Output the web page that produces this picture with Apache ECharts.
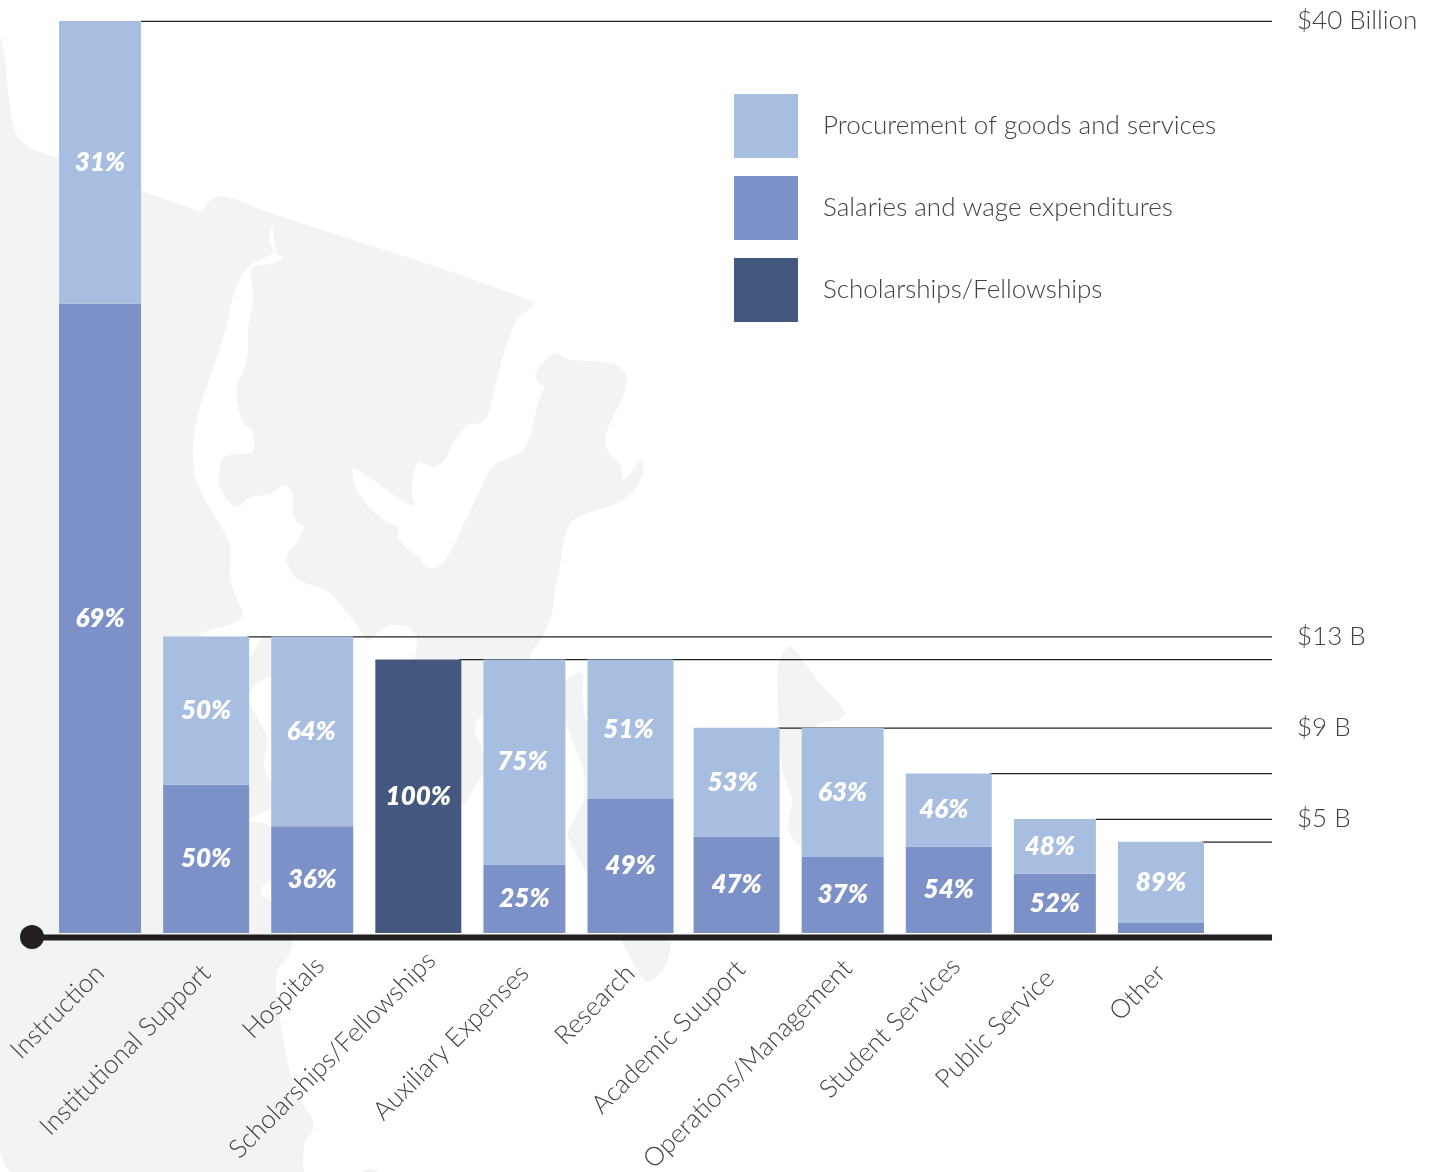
<!DOCTYPE html>
<html>
<head>
<meta charset="utf-8">
<title>University expenditures by function</title>
<style>html,body{margin:0;padding:0;background:#fff}#chart{width:1434px;height:1172px}</style>
<script src="https://cdn.jsdelivr.net/npm/echarts@6/dist/echarts.min.js"></script>
</head>
<body>
<div id="chart"></div>
<script>
// Expenditure categories, in display order
const categories = ['Instruction','Institutional Support','Hospitals','Scholarships/Fellowships','Auxiliary Expenses','Research','Academic Suuport','Operations/Management','Student Services','Public Service','Other'];

// Spending in billions of dollars
const procurement  = [12.4,6.5,8.32,null,9,6.12,4.77,5.67,3.22,2.4,3.56];
const salaries     = [27.6,6.5,4.68,null,3,5.88,4.23,3.33,3.78,2.6,0.44];
const scholarships = [null,null,null,12,null,null,null,null,null,null,null];

// Share of each category's total printed on the segments
const procurementPct  = ['31%','50%','64%',null,'75%','51%','53%','63%','46%','48%','89%'];
const salariesPct     = ['69%','50%','36%',null,'25%','49%','47%','37%','54%','52%',null];
const scholarshipsPct = [null,null,null,'100%',null,null,null,null,null,null,null];

// Reference rules: category index where the rule starts, and its level
const ruleStarts = [0,1,3,6,8,9,10];
const ruleLevels = [40,13,12,9,7,5,4];

// Scale labels on the right
const scaleValues = [40,13,9,5];
const scaleLabels = ['$40 Billion','$13 B','$9 B','$5 B'];

// Bars alternate between two widths
const narrowBars = [0,2,4,7,9];
const wideBars   = [1,3,5,6,8,10];

// Hand-placed tweaks: slide along the slanted category labels, sideways shift of segment labels
const categoryLabelSlide = [0,0,11,18,0,0,6,7,10,-7,0];
const procurementLabelShift = [0,0,-1,0,-2,-2,-4,0,-5,-5,0];

// Backdrop map of western Washington, in page pixels
const mapMainland = [[0,37],[5,60],[8,90],[12,120],[18,137],[30,148],[59,158],[141,190],[201,211],[208,202],[222,196],[240,201],[262,210],[533,302],[517,320],[505,350],[495,387],[487,417],[480,423],[468,425],[453,443],[445,460],[433,467],[419,462],[413,477],[412,493],[414,506],[397,497],[353,468],[357,490],[370,508],[388,523],[398,527],[398,538],[407,548],[420,558],[426,567],[435,568],[447,558],[490,470],[498,462],[508,458],[523,450],[532,430],[537,407],[542,393],[545,388],[538,382],[535,375],[542,363],[553,354],[560,355],[570,360],[597,361],[617,365],[627,377],[623,397],[613,417],[605,437],[607,450],[620,465],[624,480],[642,459],[643,473],[633,492],[613,505],[585,514],[570,523],[564,540],[560,567],[555,590],[552,613],[542,638],[530,654],[529,660],[500,690],[483,714],[476,722],[475,731],[482,747],[484,760],[484,771],[475,787],[461,804],[430,740],[415,660],[417,638],[407,627],[390,625],[375,635],[368,640],[353,620],[330,593],[305,583],[295,577],[287,563],[288,553],[297,542],[304,526],[297,522],[293,513],[292,492],[284,485],[270,494],[250,497],[238,507],[227,500],[219,483],[220,467],[223,457],[237,454],[253,452],[252,430],[243,423],[238,407],[237,383],[243,373],[248,353],[248,330],[253,297],[251,273],[255,266],[272,264],[283,258],[276,252],[272,225],[269,242],[273,253],[253,263],[242,275],[233,297],[227,323],[217,357],[203,397],[195,427],[193,450],[195,477],[207,503],[223,530],[230,547],[230,577],[237,600],[243,613],[237,622],[200,635],[249,656],[264,637],[285,640],[300,660],[271,676],[259,682],[250,692],[249,701],[259,721],[268,741],[264,762],[271,781],[300,790],[300,800],[271,809],[259,814],[249,820],[245,822],[249,822],[259,822],[271,826],[300,835],[300,870],[271,881],[262,887],[261,896],[271,901],[290,920],[293,942],[287,958],[277,970],[276,987],[280,1017],[287,1060],[297,1097],[312,1117],[313,1130],[305,1143],[303,1167],[304,1172],[13,1172],[0,1148]];
const mapPeninsula = [[565,681],[582,673],[583,697],[587,721],[650,800],[671,942],[663,970],[648,982],[637,970],[622,942],[587,874],[568,837],[570,827],[583,801],[584,777],[577,751],[565,724],[545,700]];
const mapIsland = [[788,646],[795,650],[817,680],[845,712],[840,719],[817,726],[810,840],[800,846],[788,828],[792,800],[782,768],[778,708],[778,666]];
const mapIslet = [[363,1172],[370,1169],[378,1172]];

const COLORS = { procurement:'#a8bee0', salaries:'#7c91c8', scholarships:'#44587f', ink:'#231f20', text:'#414042', map:'#f3f3f3' };
const LIGHT_FONT = 'Lato';

const components = [
  { name:'Salaries and wage expenditures', values:salaries, pct:salariesPct, color:COLORS.salaries, shift:null },
  { name:'Procurement of goods and services', values:procurement, pct:procurementPct, color:COLORS.procurement, shift:procurementLabelShift },
  { name:'Scholarships/Fellowships', values:scholarships, pct:scholarshipsPct, color:COLORS.scholarships, shift:null }
];

// One stacked set per bar width, each on its own category axis so both stay centred
function stackedBars(indices, axisIndex, width, stackId) {
  return components.map(c => ({
    type:'bar',
    name:c.name,
    stack:stackId,
    xAxisIndex:axisIndex,
    yAxisIndex:0,
    barWidth:width,
    z:3,
    itemStyle:{ color:c.color },
    data:c.values.map((v,i) => {
      const value = indices.includes(i) ? v : null;
      return c.shift ? { value, label:{ offset:[c.shift[i],0] } } : value;
    }),
    label:{
      show:true,
      position:'inside',
      color:'#fff',
      fontFamily:'Lato',
      fontStyle:'italic',
      fontWeight:800,
      fontSize:26,
      formatter:p => c.pct[p.dataIndex] || ''
    },
    emphasis:{ disabled:true }
  }));
}

const RULE_END_X = 1272;
const RULE_START_INSET = 41;
const ruleSeries = {
  type:'custom',
  xAxisIndex:0,
  yAxisIndex:0,
  z:1,
  clip:false,
  silent:true,
  data:ruleStarts.map((s,i) => [s, ruleLevels[i]]),
  renderItem:(params, api) => {
    const p = api.coord([api.value(0), api.value(1)]);
    const y = p[1] + 0.3;
    return { type:'line', shape:{ x1:p[0] + RULE_START_INSET, y1:y, x2:RULE_END_X, y2:y }, style:{ stroke:'#222', lineWidth:1.2 } };
  }
};

const mapFill = pts => ({ type:'polygon', shape:{ points:pts, smooth:0.25 }, style:{ fill:COLORS.map }, silent:true, z:-10 });

const chart = echarts.init(document.getElementById('chart'), null, { renderer:'canvas' });
chart.setOption({
  animation:false,
  backgroundColor:'#fff',
  grid:{ left:47, top:21, width:1167, height:912, containLabel:false, outerBoundsMode:'none' },
  xAxis:[
    {
      type:'category',
      data:categories.map((name,i) => ({ value:name, textStyle:{ padding:[0,-categoryLabelSlide[i],0,0] } })),
      axisLine:{ show:false }, axisTick:{ show:false },
      axisLabel:{ interval:0, rotate:45, margin:36, fontFamily:LIGHT_FONT, fontWeight:300, fontSize:26, color:COLORS.text }
    },
    { type:'category', data:categories, show:false }
  ],
  yAxis:{
    type:'value', min:0, max:40, position:'right',
    axisLine:{ show:false }, axisTick:{ show:false }, splitLine:{ show:false },
    axisLabel:{
      customValues:scaleValues, margin:83, fontFamily:LIGHT_FONT, fontWeight:300, fontSize:26, color:COLORS.text,
      formatter:v => scaleLabels[scaleValues.indexOf(v)]
    }
  },
  legend:{
    orient:'vertical', left:734, top:94, padding:0, icon:'rect', itemWidth:64, itemHeight:64, itemGap:18,
    selectedMode:false,
    data:['Procurement of goods and services','Salaries and wage expenditures','Scholarships/Fellowships'],
    textStyle:{ fontFamily:LIGHT_FONT, fontWeight:300, fontSize:26, color:COLORS.text, padding:[0,0,0,20] }
  },
  graphic:{
    elements:[
      mapFill(mapMainland), mapFill(mapPeninsula), mapFill(mapIsland), mapFill(mapIslet),
      { type:'rect', shape:{ x:32, y:934.5, width:1240, height:6 }, style:{ fill:COLORS.ink }, silent:true, z:-5 },
      { type:'circle', shape:{ cx:32, cy:937, r:12 }, style:{ fill:COLORS.ink }, silent:true, z:-5 }
    ]
  },
  series:[ ruleSeries, ...stackedBars(wideBars, 0, 86, 'wide'), ...stackedBars(narrowBars, 1, 82, 'narrow') ]
});
</script>
</body>
</html>
